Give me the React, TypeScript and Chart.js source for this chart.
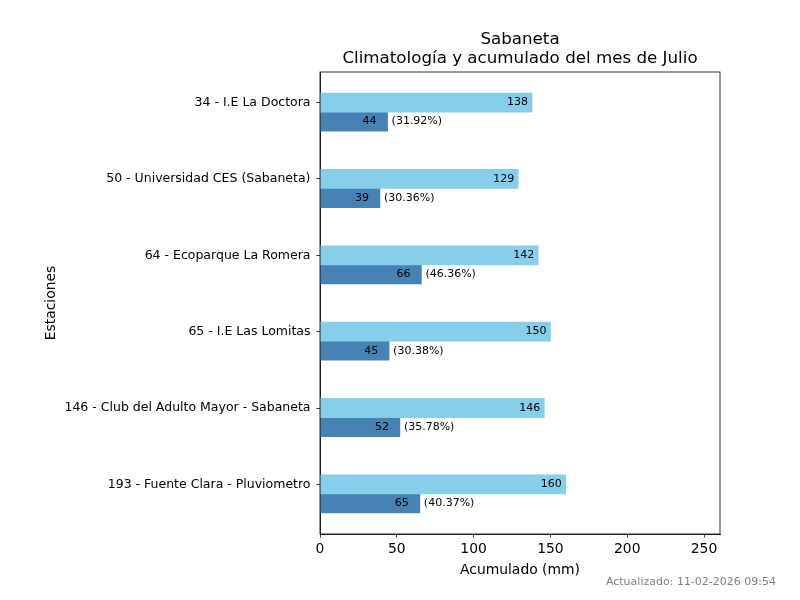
import React, { useEffect, useRef } from "react";
import { Chart, registerables } from "chart.js";

Chart.register(...registerables);

const stations = [
  "34 - I.E La Doctora",
  "50 - Universidad CES (Sabaneta)",
  "64 - Ecoparque La Romera",
  "65 - I.E Las Lomitas",
  "146 - Club del Adulto Mayor - Sabaneta",
  "193 - Fuente Clara - Pluviometro",
];
const climatology = [138, 129, 142, 150, 146, 160];
const accumulated = [44, 39, 66, 45, 52, 65];
const percentLabels = ["31.92%", "30.36%", "46.36%", "30.38%", "35.78%", "40.37%"];
const xTicks = [0, 50, 100, 150, 200, 250];
const titleLines = ["Sabaneta", "Climatología y acumulado del mes de Julio"];
const xTitle = "Acumulado (mm)";
const yTitle = "Estaciones";
const footer = "Actualizado: 11-02-2026 09:54";

const FONT = "'DejaVu Sans', sans-serif";

export default function App() {
  const ref = useRef<HTMLCanvasElement | null>(null);

  useEffect(() => {
    if (!ref.current) return;

    const decor = {
      id: "decor",
      afterDatasetsDraw(chart: any) {
        const ctx = chart.ctx;
        const xs = chart.scales.x;
        ctx.save();
        ctx.font = `11px ${FONT}`;
        ctx.fillStyle = "#000";
        ctx.textBaseline = "middle";
        chart.data.datasets.forEach((ds: any, di: number) => {
          const meta = chart.getDatasetMeta(di);
          meta.data.forEach((bar: any, i: number) => {
            const v = ds.data[i].x;
            const yc = bar.y;
            const xe = xs.getPixelForValue(v);
            if (di === 0) {
              ctx.textAlign = "right";
              ctx.fillText(String(v), xe - 4, yc);
            } else {
              ctx.textAlign = "right";
              ctx.fillText(String(v), xe - 11, yc);
              ctx.textAlign = "left";
              ctx.fillText(`(${percentLabels[i]})`, xe + 4, yc);
            }
          });
        });
        ctx.restore();
      },
      afterDraw(chart: any) {
        const ctx = chart.ctx;
        const a = chart.chartArea;
        ctx.save();
        ctx.strokeStyle = "#000";
        ctx.lineWidth = 0.8;
        ctx.strokeRect(a.left, a.top, a.right - a.left, a.bottom - a.top);
        const cx = (a.left + a.right) / 2;
        ctx.fillStyle = "#000";
        ctx.textAlign = "center";
        ctx.textBaseline = "middle";
        ctx.font = `16.7px ${FONT}`;
        ctx.fillText(titleLines[0], cx, 40);
        ctx.fillText(titleLines[1], cx, 59);
        ctx.font = `13.9px ${FONT}`;
        ctx.fillText(xTitle, cx, 570);
        ctx.save();
        ctx.translate(51, (a.top + a.bottom) / 2);
        ctx.rotate(-Math.PI / 2);
        ctx.fillText(yTitle, 0, 0);
        ctx.restore();
        ctx.font = `11px ${FONT}`;
        ctx.fillStyle = "#808080";
        ctx.textAlign = "right";
        ctx.fillText(footer, 776, 582);
        ctx.restore();
      },
    };

    const chart = new Chart(ref.current, {
      type: "bar",
      data: {
        datasets: [
          {
            label: "Climatología",
            data: climatology.map((v, i) => ({ x: v, y: i })),
            backgroundColor: "#87CEEB",
            borderWidth: 0,
          },
          {
            label: "Acumulado",
            data: accumulated.map((v, i) => ({ x: v, y: i + 0.25 })),
            backgroundColor: "#4682B4",
            borderWidth: 0,
          },
        ],
      },
      options: {
        indexAxis: "y",
        animation: false,
        responsive: false,
        maintainAspectRatio: false,
        devicePixelRatio: 1,
        grouped: false,
        barPercentage: 1,
        categoryPercentage: 1,
        layout: { padding: { left: 0, top: 72, right: 80, bottom: 0 } },
        plugins: {
          legend: { display: false },
          title: { display: false },
          tooltip: { enabled: false },
        },
        scales: {
          x: {
            type: "linear",
            offset: false,
            min: 0,
            max: 260.4,
            afterBuildTicks: (s: any) => {
              s.ticks = xTicks.map((v) => ({ value: v }));
            },
            afterFit: (s: any) => {
              s.height = 66;
            },
            grid: {
              display: true,
              offset: false,
              drawOnChartArea: false,
              drawTicks: true,
              tickLength: 3.5,
              color: "#000",
              lineWidth: 0.8,
            },
            border: { display: true, color: "#000", width: 0.8 },
            ticks: {
              font: { family: FONT, size: 13.9 },
              color: "#000",
              padding: 3.5,
              maxRotation: 0,
              autoSkip: false,
            },
          },
          y: {
            type: "linear",
            offset: false,
            reverse: true,
            min: -0.4,
            max: 5.65,
            afterBuildTicks: (s: any) => {
              s.ticks = stations.map((_, i) => ({ value: i }));
            },
            afterFit: (s: any) => {
              s.width = 320;
            },
            grid: {
              display: true,
              offset: false,
              drawOnChartArea: false,
              drawTicks: true,
              tickLength: 3.5,
              color: "#000",
              lineWidth: 0.8,
            },
            border: { display: true, color: "#000", width: 0.8 },
            ticks: {
              font: { family: FONT, size: 12.5 },
              color: "#000",
              padding: 6,
              autoSkip: false,
              callback: (v: any) => stations[Math.round(Number(v))] ?? "",
            },
          },
        },
      } as any,
      plugins: [decor],
    });

    return () => chart.destroy();
  }, []);

  return (
    <div style={{ position: "fixed", left: 0, top: 0, width: 800, height: 600, background: "#fff" }}>
      <canvas ref={ref} width={800} height={600} style={{ width: 800, height: 600 }} />
    </div>
  );
}
